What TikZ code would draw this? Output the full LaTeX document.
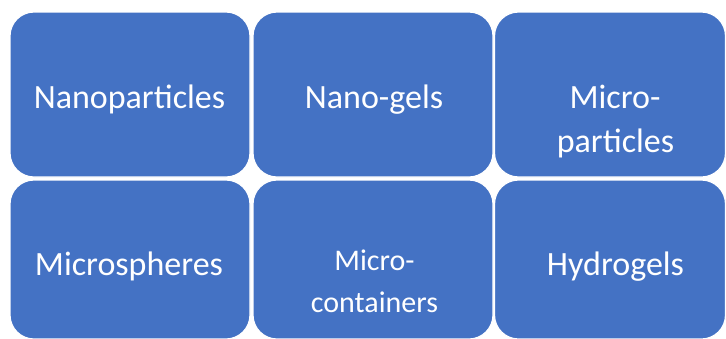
\documentclass[tikz,border=0pt]{standalone}
\usepackage{fontspec}
\setmainfont{Carlito}
\definecolor{boxblue}{HTML}{4472C4}
\begin{document}
\begin{tikzpicture}[x=1pt,y=-1pt,
  tile/.style={draw=white,line width=1.2pt,fill=boxblue,rounded corners=24pt,minimum width=#1,inner sep=0pt},
  tile/.default=240pt,
  lbl/.style={text=white,anchor=base,inner sep=0pt,font=\fontsize{34}{34}\selectfont},
  slbl/.style={text=white,anchor=base,inner sep=0pt,font=\fontsize{30}{30}\selectfont}]
\useasboundingbox (0,0) rectangle (726,338);
% row 1
\node[tile=240pt,minimum height=165pt] (b1) at (130,94.5) {};
\node[tile=240pt,minimum height=165pt] (b2) at (373,94.5) {};
\node[tile=231pt,minimum height=165pt] (b3) at (610,94.5) {};
% row 2
\node[tile=240pt,minimum height=159pt] (b4) at (130,259.5) {};
\node[tile=240pt,minimum height=159pt] (b5) at (373,259.5) {};
\node[tile=231pt,minimum height=159pt] (b6) at (610,259.5) {};
% labels
\node[lbl] (t1) at (129.5,108) {Nanoparticles};
\node[lbl] (t2) at (374,108) {Nano-gels};
\node[lbl] (t3a) at (615,108) {Micro-};
\node[lbl] (t3b) at (615.5,152) {particles};
\node[lbl] (t4) at (129,275) {Microspheres};
\node[slbl] (t5a) at (374.5,270) {Micro-};
\node[slbl] (t5b) at (374.5,312) {containers};
\node[lbl] (t6) at (615.5,275) {Hydrogels};
\end{tikzpicture}
\end{document}
